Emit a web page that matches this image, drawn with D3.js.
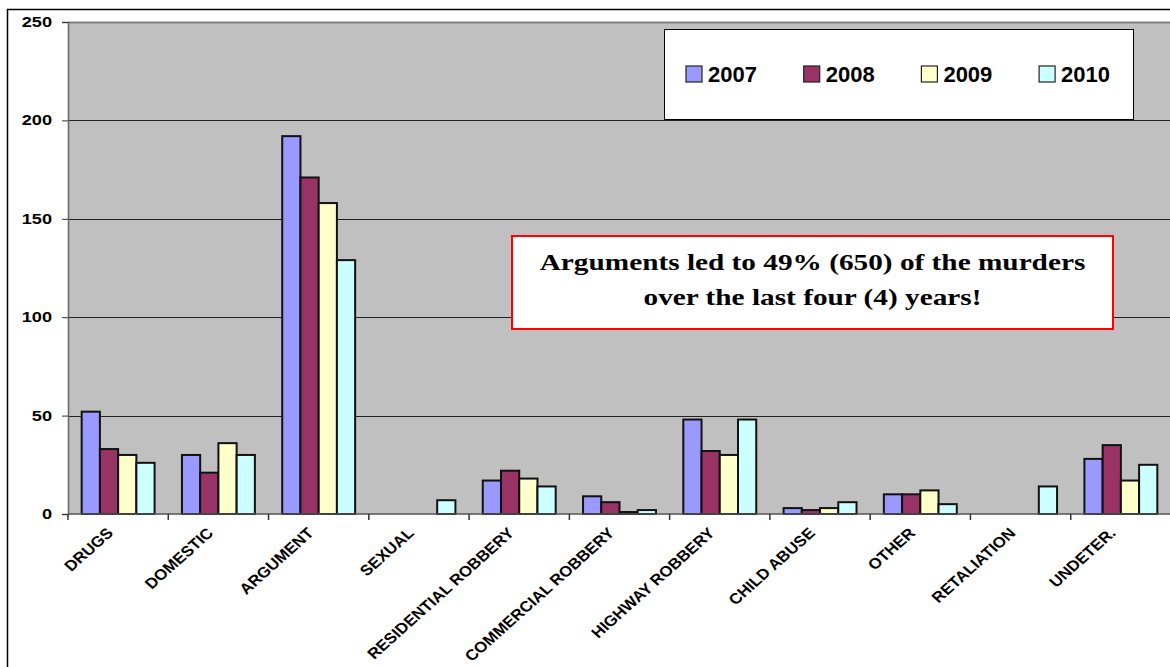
<!DOCTYPE html>
<html>
<head>
<meta charset="utf-8">
<script src="https://cdnjs.cloudflare.com/ajax/libs/d3/7.8.5/d3.min.js"></script>
<style>
  body { margin: 0; background: #fff; }
  text { font-family: Arial, "Liberation Sans", sans-serif; font-weight: bold; }
</style>
</head>
<body>
<div id="chart-area"></div>
<script>
// DATA
var categories = ["DRUGS", "DOMESTIC", "ARGUMENT", "SEXUAL", "RESIDENTIAL ROBBERY",
    "COMMERCIAL ROBBERY", "HIGHWAY ROBBERY", "CHILD ABUSE", "OTHER", "RETALIATION", "UNDETER."];
var years = ["2007", "2008", "2009", "2010"];
var values2007 = [52, 30, 192, 0, 17, 9, 48, 3, 10, 0, 28];
var values2008 = [33, 21, 171, 0, 22, 6, 32, 2, 10, 0, 35];
var values2009 = [30, 36, 158, 0, 18, 1, 30, 3, 12, 0, 17];
var values2010 = [26, 30, 129, 7, 14, 2, 48, 6, 5, 14, 25];
var yTicks = [0, 50, 100, 150, 200, 250];
var noteLines = ["Arguments led to 49% (650) of the murders", "over the last four (4) years!"];

var series = [values2007, values2008, values2009, values2010];
var colors = ["#9999ff", "#993366", "#ffffcc", "#ccffff"];

// the original picture is stretched sideways, text follows that
var stretchY = 1.3;
var stretchX = 1.12;

var W = 1170, H = 667;
var margin = { left: 68, top: 22 },
    width = 1103,
    height = 492;

var svg = d3.select("#chart-area").append("svg")
    .attr("width", W)
    .attr("height", H);

// outer chart border
svg.append("rect")
    .attr("x", 7.5).attr("y", 9.5)
    .attr("width", W + 10).attr("height", H + 10)
    .attr("fill", "#fff")
    .attr("stroke", "#000")
    .attr("stroke-width", 1.5);

var g = svg.append("g")
    .attr("transform", "translate(" + margin.left + "," + margin.top + ")");

// Scales
var x0 = d3.scaleBand().domain(categories).range([0, width]).paddingInner(0).paddingOuter(0);
var bw = x0.bandwidth() / 5.5;
var x1 = d3.scaleBand().domain(years).range([bw * 0.75, bw * 4.75]);
var y = d3.scaleLinear().domain([0, 250]).range([height, 0]);

// plot background
g.append("rect")
    .attr("width", width).attr("height", height)
    .attr("fill", "#c0c0c0");

// gridlines
g.selectAll(".grid").data(yTicks.filter(d => d > 0 && d < 250))
  .enter().append("line")
    .attr("x1", 0).attr("x2", width)
    .attr("y1", d => Math.round(y(d)) + 0.5).attr("y2", d => Math.round(y(d)) + 0.5)
    .attr("stroke", "#222").attr("stroke-width", 1.2);

// top frame
g.append("line")
    .attr("x1", 0).attr("x2", width).attr("y1", 0.5).attr("y2", 0.5)
    .attr("stroke", "#808080").attr("stroke-width", 2);

// bars
var groups = g.selectAll(".cat").data(categories)
  .enter().append("g")
    .attr("transform", d => "translate(" + x0(d) + ",0)");

groups.selectAll("rect")
    .data((d, i) => years.map((yr, k) => ({ yr: yr, v: series[k][i], k: k })))
  .enter().filter(d => d.v > 0).append("rect")
    .attr("x", d => x1(d.yr))
    .attr("y", d => y(d.v))
    .attr("width", x1.bandwidth())
    .attr("height", d => y(0) - y(d.v))
    .attr("fill", d => colors[d.k])
    .attr("stroke", "#111")
    .attr("stroke-width", 2);

// Y axis
var yAxis = g.append("g").attr("class", "y axis")
    .call(d3.axisLeft(y).tickValues(yTicks).tickSize(6).tickPadding(10));
yAxis.select(".domain").attr("stroke", "#666").attr("stroke-width", 1.5);
yAxis.selectAll(".tick line").attr("stroke", "#333");
yAxis.selectAll(".tick text")
    .attr("x", 0)
    .attr("transform", "translate(-16,0) scale(" + stretchY + ",1)")
    .attr("fill", "#000")
    .style("font-size", "14px")
    .style("font-family", "Arial, 'Liberation Sans', sans-serif")
    .style("font-weight", "bold");

// X axis
var xAxis = g.append("g").attr("class", "x axis")
    .attr("transform", "translate(0," + height + ")");
xAxis.append("line")
    .attr("x1", 0).attr("x2", width).attr("y1", 0).attr("y2", 0)
    .attr("stroke", "#555").attr("stroke-width", 1.5);
xAxis.selectAll(".xtick").data(d3.range(categories.length + 1))
  .enter().append("line")
    .attr("x1", i => i * x0.step()).attr("x2", i => i * x0.step())
    .attr("y1", 0).attr("y2", 6)
    .attr("stroke", "#333").attr("stroke-width", 1.5);
xAxis.selectAll(".xlabel").data(categories)
  .enter().append("text")
    .attr("transform", d => "translate(" + (x0(d) + x0.bandwidth() / 2 - 4) + ",20) scale(" + stretchX + ",1) rotate(-45)")
    .attr("text-anchor", "end")
    .style("font-size", "15px")
    .text(d => d);

// Legend
var legend = svg.append("g").attr("transform", "translate(664,29)");
legend.append("rect")
    .attr("x", 0.5).attr("y", 0.5)
    .attr("width", 469).attr("height", 90)
    .attr("fill", "#fff")
    .attr("stroke", "#000").attr("stroke-width", 1);
var li = legend.selectAll(".li").data(years)
  .enter().append("g")
    .attr("transform", (d, i) => "translate(" + (22 + i * 117.7) + ",45)");
li.append("rect")
    .attr("x", 0).attr("y", -8)
    .attr("width", 16).attr("height", 16)
    .attr("fill", (d, i) => colors[i])
    .attr("stroke", "#222").attr("stroke-width", 1.2);
li.append("text")
    .attr("x", 22).attr("dy", "0.36em")
    .style("font-size", "22px")
    .text(d => d);

// Annotation
var note = svg.append("g").attr("transform", "translate(512,236)");
note.append("rect")
    .attr("x", 0).attr("y", 0)
    .attr("width", 601).attr("height", 93)
    .attr("fill", "#fff")
    .attr("stroke", "#ff0000").attr("stroke-width", 2);
note.selectAll(".nl").data(noteLines)
  .enter().append("text")
    .attr("transform", (d, i) => "translate(300.5," + (34 + i * 35) + ") scale(1.22,1)")
    .attr("text-anchor", "middle")
    .style("font-family", "'Times New Roman', 'Liberation Serif', serif")
    .style("font-size", "24px")
    .text(d => d);
</script>
</body>
</html>
